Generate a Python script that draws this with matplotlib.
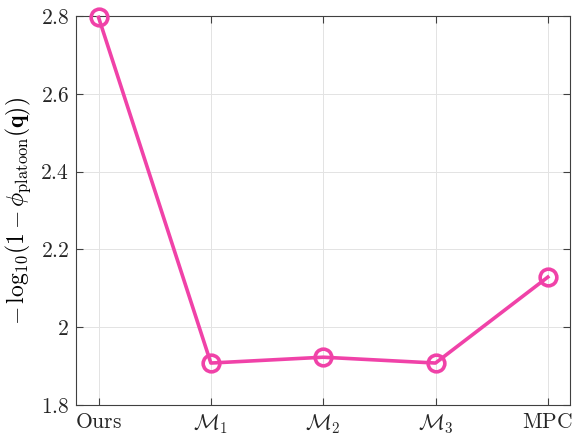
import matplotlib
matplotlib.use("Agg")
import matplotlib.pyplot as plt

plt.rcParams["mathtext.fontset"] = "cm"
plt.rcParams["font.family"] = "serif"
plt.rcParams["font.serif"] = ["cmr10", "DejaVu Serif"]
plt.rcParams["axes.unicode_minus"] = False

methods = [r"$\mathrm{Ours}$", r"$\mathcal{M}_1$", r"$\mathcal{M}_2$", r"$\mathcal{M}_3$", r"$\mathrm{MPC}$"]
scores = [2.797, 1.908, 1.923, 1.908, 2.129]
y_ticks = [1.8, 2.0, 2.2, 2.4, 2.6, 2.8]
y_tick_labels = [r"$1.8$", r"$2$", r"$2.2$", r"$2.4$", r"$2.6$", r"$2.8$"]

fig = plt.figure(figsize=(5.72, 4.36), dpi=100)
ax = fig.add_axes([0.133, 0.071, 0.864, 0.892])

x = list(range(1, len(methods) + 1))
ax.plot(x, scores, color="#F042A8", lw=2.6, marker="o", ms=12,
        mfc="none", mec="#F042A8", mew=2.6, zorder=3, clip_on=False)

ax.set_xlim(0.8, 5.2)
ax.set_ylim(1.8, 2.8)
ax.set_xticks(x)
ax.set_xticklabels(methods, fontsize=15.5)
ax.set_yticks(y_ticks)
ax.set_yticklabels(y_tick_labels, fontsize=15.5)
ax.set_ylabel(r"$-\,\log_{10}\!(1-\phi_{\mathrm{platoon}}(\mathbf{q}))$", fontsize=17, labelpad=5)

ax.grid(True, color="#e3e3e3", lw=0.7)
ax.set_axisbelow(True)
for s in ax.spines.values():
    s.set_color("#404040")
    s.set_linewidth(0.8)
ax.tick_params(direction="in", length=5, width=0.8, color="#404040",
               top=True, right=True, labelcolor="#262626", pad=5)

fig.savefig("out.png", dpi=100)
